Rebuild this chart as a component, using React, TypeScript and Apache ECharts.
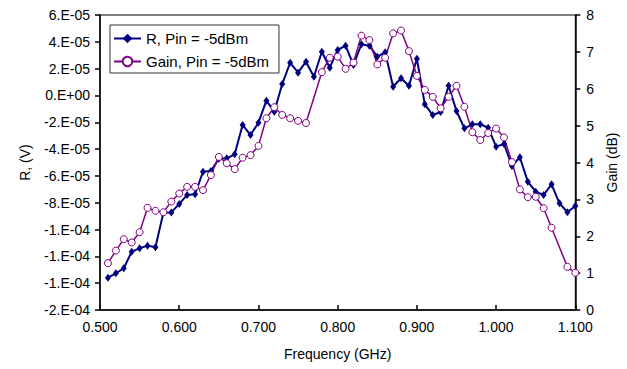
import React, { useEffect, useRef } from "react";
import * as echarts from "echarts";

const freq = [
  0.51, 0.52, 0.53, 0.54, 0.55, 0.56, 0.57, 0.58, 0.59, 0.6,
  0.61, 0.62, 0.63, 0.64, 0.65, 0.66, 0.67, 0.68, 0.69, 0.7,
  0.71, 0.72, 0.73, 0.74, 0.75, 0.76, 0.77, 0.78, 0.79, 0.8,
  0.81, 0.82, 0.83, 0.84, 0.85, 0.86, 0.87, 0.88, 0.89, 0.9,
  0.91, 0.92, 0.93, 0.94, 0.95, 0.96, 0.97, 0.98, 0.99, 1.0,
  1.01, 1.02, 1.03, 1.04, 1.05, 1.06, 1.07, 1.08, 1.09, 1.1,
];

// R (V)
const rValues = [
  -13.59e-5, -13.26e-5, -12.89e-5, -11.65e-5, -11.4e-5, -11.2e-5, -11.32e-5, -8.74e-5, -8.72e-5, -8.09e-5,
  -7.42e-5, -7.37e-5, -5.69e-5, -5.63e-5, -4.72e-5, -4.69e-5, -4.39e-5, -2.2e-5, -2.95e-5, -2.03e-5,
  -0.39e-5, -1.21e-5, 0.85e-5, 2.44e-5, 1.7e-5, 2.52e-5, 1.4e-5, 3.26e-5, 2.07e-5, 3.39e-5,
  3.71e-5, 2.27e-5, 3.82e-5, 3.71e-5, 2.89e-5, 3.22e-5, 0.65e-5, 1.28e-5, 0.73e-5, 2.74e-5,
  -0.66e-5, -1.46e-5, -1.23e-5, 0.73e-5, -1.16e-5, -2.45e-5, -2.15e-5, -2.14e-5, -2.41e-5, -3.82e-5,
  -3.62e-5, -5.26e-5, -4.61e-5, -6.43e-5, -7.18e-5, -7.42e-5, -6.63e-5, -8.04e-5, -8.71e-5, -8.24e-5,
];

// Gain (dB); null = no point measured at that frequency
const gainValues: (number | null)[] = [
  1.27, 1.61, 1.92, 1.83, 2.11, 2.77, 2.69, 2.65, 2.94, 3.16,
  3.34, 3.34, 3.25, 3.66, 4.15, 3.98, 3.82, 4.13, 4.2, 4.45,
  5.2, 5.5, 5.29, 5.2, 5.13, 5.07, null, 6.45, 6.84, 6.87,
  6.54, 6.71, 7.44, 7.32, 6.66, 6.84, 7.5, 7.58, 7.02, 6.35,
  5.97, 5.78, 5.47, 5.78, 6.08, 5.51, 4.82, 4.61, 4.8, 4.92,
  4.68, 4.01, 3.27, 3.06, 3.07, 2.76, 2.23, null, 1.17, 1.01,
];

const seriesNames = ["R, Pin = -5dBm", "Gain, Pin = -5dBm"];

const FONT = "'Liberation Sans', Arial, sans-serif";

function excelSci(v: number): string {
  if (Math.abs(v) < 1e-12) return "0.E+00";
  const s = v.toExponential(0); // e.g. "-2e-4"
  const [m, e] = s.split("e");
  const exp = parseInt(e, 10);
  const sign = exp < 0 ? "-" : "+";
  const ea = Math.abs(exp);
  return `${m}.E${sign}${ea < 10 ? "0" + ea : ea}`;
}

export default function App() {
  const ref = useRef<HTMLDivElement>(null);
  useEffect(() => {
    if (!ref.current) return;
    const chart = echarts.init(ref.current, null, { renderer: "svg" });
    const rData = freq.map((f, i) => [f, rValues[i]]);
    const gData = freq
      .map((f, i) => [f, gainValues[i]])
      .filter((d) => d[1] !== null);
    chart.setOption({
      animation: false,
      backgroundColor: "#fff",
      textStyle: { fontFamily: FONT },
      grid: {
        left: 100,
        right: 51,
        top: 15,
        bottom: 59,
        show: true,
        borderColor: "#000",
        borderWidth: 1,
      },
      legend: {
        data: seriesNames,
        orient: "vertical",
        left: 110,
        top: 25,
        backgroundColor: "#fff",
        borderColor: "#333",
        borderWidth: 1,
        borderRadius: 0,
        padding: [6, 10, 4, 3],
        itemGap: 8,
        itemWidth: 27,
        itemHeight: 12,
        textStyle: { fontSize: 15, color: "#000", fontFamily: FONT },
      },
      xAxis: {
        type: "value",
        min: 0.5,
        max: 1.1,
        interval: 0.1,
        name: "Frequency (GHz)",
        nameLocation: "middle",
        nameGap: 37,
        nameTextStyle: { fontSize: 14, color: "#000", fontFamily: FONT },
        axisLine: { onZero: false, lineStyle: { color: "#000", width: 1.5 } },
        axisTick: { inside: true, length: 5, lineStyle: { color: "#000", width: 1.5 } },
        axisLabel: {
          margin: 10,
          fontSize: 14,
          color: "#000",
          fontFamily: FONT,
          formatter: (v: number) => v.toFixed(3),
        },
        splitLine: { show: false },
      },
      yAxis: [
        {
          type: "value",
          position: "left",
          min: -16e-5,
          max: 6e-5,
          interval: 2e-5,
          name: "R, (V)",
          nameLocation: "middle",
          nameRotate: 90,
          nameGap: 68,
          nameTextStyle: { fontSize: 14, color: "#000", fontFamily: FONT },
          axisLine: { show: true, onZero: false, lineStyle: { color: "#000", width: 1.5 } },
          axisTick: { show: true, length: 5, lineStyle: { color: "#000", width: 1.5 } },
          axisLabel: {
            margin: 10,
            fontSize: 14,
            color: "#000",
            fontFamily: FONT,
            formatter: (v: number) => excelSci(v),
          },
          splitLine: { show: false },
        },
        {
          type: "value",
          position: "right",
          min: 0,
          max: 8,
          interval: 1,
          name: "Gain (dB)",
          nameLocation: "middle",
          nameRotate: 90,
          nameGap: 28,
          nameTextStyle: { fontSize: 14, color: "#000", fontFamily: FONT },
          axisLine: { show: true, onZero: false, lineStyle: { color: "#000", width: 1.5 } },
          axisTick: { show: true, length: 5, lineStyle: { color: "#000", width: 1.5 } },
          axisLabel: { margin: 11, fontSize: 14, color: "#000", fontFamily: FONT },
          splitLine: { show: false },
        },
      ],
      series: [
        {
          name: seriesNames[0],
          type: "line",
          yAxisIndex: 0,
          data: rData,
          symbol: "diamond",
          symbolSize: [6, 8],
          itemStyle: { color: "#000080" },
          lineStyle: { color: "#000080", width: 2 },
        },
        {
          name: seriesNames[1],
          type: "line",
          yAxisIndex: 1,
          data: gData,
          symbol: "circle",
          symbolSize: 7,
          itemStyle: { color: "#fff", borderColor: "#800080", borderWidth: 1 },
          lineStyle: { color: "#800080", width: 1.5 },
        },
      ],
    });
    return () => chart.dispose();
  }, []);
  return (
    <div
      ref={ref}
      style={{ position: "fixed", left: 0, top: 0, width: 627, height: 369, background: "#fff" }}
    />
  );
}
